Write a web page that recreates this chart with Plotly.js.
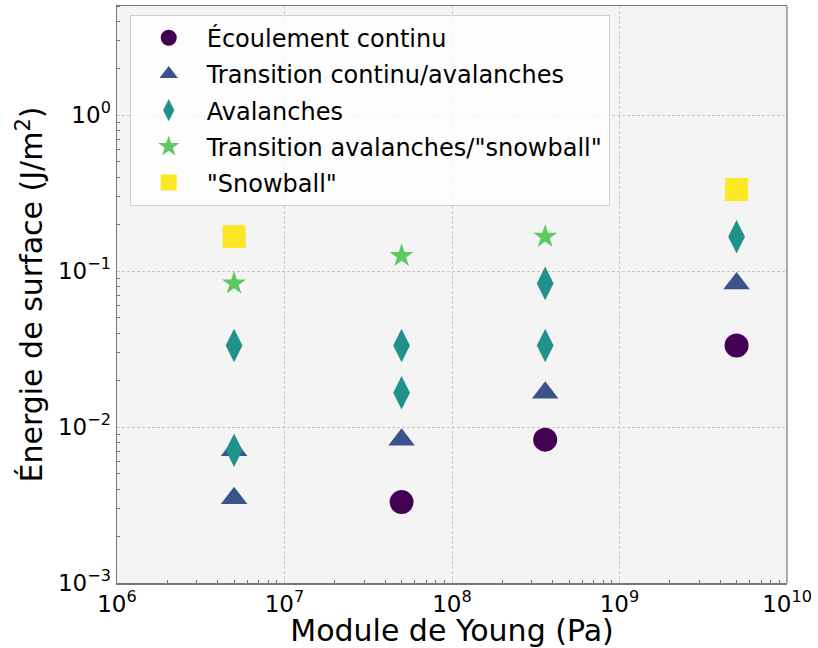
<!DOCTYPE html>
<html>
<head>
<meta charset="utf-8">
<script src="https://cdn.plot.ly/plotly-3.0.1.min.js"></script>
<style>html,body{margin:0;padding:0;background:#fff;}#chart{width:818px;height:648px;}</style>
</head>
<body>
<div id="chart"></div>
<script>
// Data
const seriesNames = ["Écoulement continu", "Transition continu/avalanches", "Avalanches", "Transition avalanches/\"snowball\"", "\"Snowball\""];
const ecoulementX = [5e7, 3.6e8, 5e9];
const ecoulementY = [0.0033, 0.0083, 0.0333];
const transContX = [5e6, 5e6, 5e7, 3.6e8, 5e9];
const transContY = [0.0035, 0.0071, 0.0083, 0.0166, 0.0833];
const avalanchesX = [5e6, 5e6, 5e7, 5e7, 3.6e8, 3.6e8, 5e9];
const avalanchesY = [0.0071, 0.0333, 0.0166, 0.0333, 0.0333, 0.0833, 0.166];
const transSnowX = [5e6, 5e7, 3.6e8];
const transSnowY = [0.0833, 0.125, 0.166];
const snowballX = [5e6, 5e9];
const snowballY = [0.166, 0.333];

const xTickVals = [1e6, 1e7, 1e8, 1e9, 1e10];
const xTickText = ["10<sup>6</sup>", "10<sup>7</sup>", "10<sup>8</sup>", "10<sup>9</sup>", "10<sup>10</sup>"];
const yTickVals = [1e-3, 1e-2, 1e-1, 1e0];
const yTickText = ["10<sup>\u22123</sup>", "10<sup>\u22122</sup>", "10<sup>\u22121</sup>", "10<sup>0</sup>"];
const minorDigits = [2, 3, 4, 5, 6, 7, 8, 9];
const xDecades = [1e6, 1e7, 1e8, 1e9];
const yDecades = [1e-3, 1e-2, 1e-1, 1e0];

const xMinor = [].concat(...xDecades.map(d => minorDigits.map(m => m * d)));
const yMinor = [].concat(...yDecades.map(d => minorDigits.map(m => m * d)));

const colors = ["#440154", "#3b528b", "#21918c", "#5ec962", "#fde725"];
const symbols = ["circle", "triangle-up", "diamond-tall", "star", "square"];
const sizes = [24, 23, 24, 18, 23];
const xs = [ecoulementX, transContX, avalanchesX, transSnowX, snowballX];
const ys = [ecoulementY, transContY, avalanchesY, transSnowY, snowballY];

const traces = seriesNames.map((n, i) => ({
  type: "scatter", mode: "markers", name: n, legendgroup: "g" + i,
  x: xs[i], y: ys[i],
  marker: {symbol: symbols[i], color: colors[i], size: sizes[i], line: {width: 0}},
  cliponaxis: false
}));

const font = "DejaVu Sans, sans-serif";
const layout = {
  width: 818, height: 648,
  margin: {l: 117, r: 31, t: 6, b: 65},
  paper_bgcolor: "#ffffff",
  plot_bgcolor: "#f4f4f4",
  font: {family: font, color: "#000", size: 23},
  showlegend: true,
  legend: {
    x: 0.019, y: 0.985, xanchor: "left", yanchor: "top",
    bgcolor: "rgba(255,255,255,0.8)", bordercolor: "#d0d0d0", borderwidth: 1,
    font: {family: font, size: 24, color: "#000"},
    itemwidth: 66, itemsizing: "trace", traceorder: "grouped", tracegroupgap: 2
  },
  xaxis: {
    type: "log", range: [6, 10],
    tickmode: "array", tickvals: xTickVals, ticktext: xTickText,
    ticks: "", showline: true, linecolor: "#777", linewidth: 1.5, mirror: true,
    showgrid: true, gridcolor: "#c8c8c8", griddash: "3px,2px", gridwidth: 1,
    zeroline: false,
    tickfont: {family: font, size: 23},
    minor: {tickmode: "array", tickvals: xMinor, ticks: "inside", ticklen: 3, tickcolor: "#777", showgrid: false},
    title: {text: "Module de Young (Pa)", font: {family: font, size: 30}, standoff: 7}
  },
  yaxis: {
    type: "log", range: [-3, Math.log10(5)],
    tickmode: "array", tickvals: yTickVals, ticktext: yTickText,
    ticks: "", showline: true, linecolor: "#777", linewidth: 1.5,
    showgrid: true, gridcolor: "#c8c8c8", griddash: "3px,2px", gridwidth: 1,
    zeroline: false,
    tickfont: {family: font, size: 23},
    minor: {tickmode: "array", tickvals: yMinor, ticks: "inside", ticklen: 3, tickcolor: "#777", showgrid: false},
    title: {text: "Énergie de surface (J/m<sup>2</sup>)", font: {family: font, size: 30}, standoff: 6}
  },
  shapes: [{type: "line", xref: "paper", yref: "paper", x0: 1, x1: 1, y0: 0, y1: 1,
            line: {color: "#aaaaaa", width: 2}}]
};

Plotly.newPlot("chart", traces, layout, {displayModeBar: false, staticPlot: true});
</script>
</body>
</html>
